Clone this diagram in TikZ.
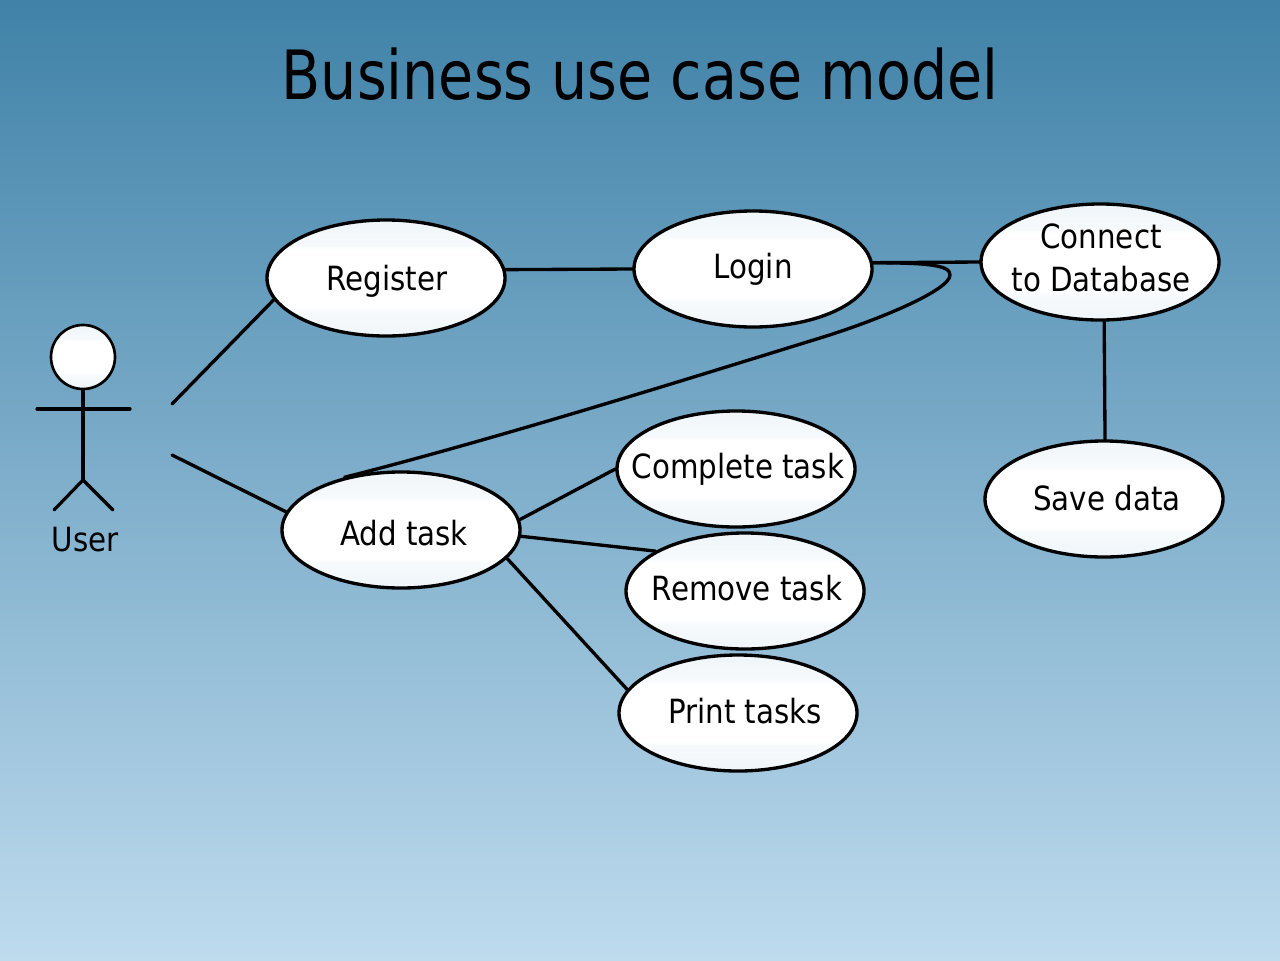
\documentclass[tikz,border=0pt]{standalone}
\usepackage{fontspec}
\setmainfont{DejaVu Sans}[FakeStretch=0.88]
\newfontfamily\titlefont{DejaVu Sans}[FakeStretch=0.84]
\usetikzlibrary{shapes.geometric}
\definecolor{bgtop}{HTML}{4082A8}
\definecolor{bgbot}{HTML}{BEDBEE}
\definecolor{bandc}{HTML}{EFF5F9}
\definecolor{bandd}{HTML}{F7FAFC}
\pgfdeclareverticalshading{ucband}{100bp}{color(0bp)=(bandc); color(25bp)=(bandc); color(36bp)=(bandd); color(38bp)=(white); color(62bp)=(white); color(64bp)=(bandd); color(75bp)=(bandc); color(100bp)=(bandc)}
\tikzset{
  x=0.75pt,y=-0.75pt,
  usecase/.style={ellipse,draw=black,line width=2.5pt,minimum width=238*0.75pt,minimum height=116*0.75pt,inner sep=0pt,
    shading=ucband,font=\fontsize{25}{32}\selectfont,align=center},
  link/.style={line width=2.5pt,line cap=round},
  stick/.style={line width=2.4pt,line cap=round},
}
% \uc{shift right in px}{baseline below the centre in px}{text}: text that does not widen the ellipse
\newcommand{\uc}[3]{\makebox[0pt][c]{\smash{\raisebox{-#2\dimexpr0.75pt\relax}{\hspace*{#1\dimexpr1.5pt\relax}#3}}}}
\begin{document}
\begin{tikzpicture}
\useasboundingbox (0,0) rectangle (1280,960);
\shade[top color=bgtop,bottom color=bgbot,shading angle=0] (0,0) rectangle (1280,960);
\node[font=\titlefont\fontsize{51}{60}\selectfont,anchor=center] (title) at (640,74) {Business use case model};
% actor
\node[circle,draw=black,line width=2pt,minimum size=64*0.75pt,inner sep=0pt,shading=ucband] (head) at (83,357) {};
\coordinate (armL) at (37,409);
\coordinate (armR) at (130,409);
\coordinate (hip) at (83,480);
\coordinate (footL) at (54,510);
\coordinate (footR) at (113,510);
\draw[stick] (armL) -- (armR);
\draw[stick] (head.south) -- (hip);
\draw[stick] (footL) -- (hip) -- (footR);
\node[font=\fontsize{25}{28}\selectfont] (user) at (85,540) {User};
\coordinate (ua) at (172,404);
\coordinate (ub) at (172,455);
% use cases
\node[usecase] (register) at (386,278) {\uc{1}{12}{Register}};
\node[usecase] (login) at (753,269) {\uc{0}{9}{Login}};
\node[usecase] (connect) at (1100,262) {\uc{1}{8}{Connect}\\\uc{1}{8}{to Database}};
\node[usecase] (save) at (1104,499) {\uc{3}{11}{Save data}};
\node[usecase] (complete) at (736,469) {\uc{2}{9}{Complete task}};
\node[usecase] (remove) at (745,591) {\uc{2}{9}{Remove task}};
\node[usecase] (print) at (738,713) {\uc{7}{10}{Print tasks}};
\node[usecase] (add) at (401,530) {\uc{3}{15}{Add task}};
% connectors
\draw[link] (ua) -- (register.191.7);
\draw[link] (ub) -- (add.171.5);
\draw[link] (register.4.3) -- (login.180);
\draw[link] (login.3) -- (connect.180);
\draw[link] (connect.-86) -- (save.89);
\draw[link] (add.5.8) -- (complete.180.5);
\draw[link] (add.-3.8) -- (remove.156.6);
\draw[link] (add.-15.6) -- (print.168);
\coordinate (tip) at (950,275);
\coordinate (bend) at (820,338);
\draw[link] (login.3) .. controls (920,263) and (951,264) .. (tip) .. controls (950,290) and (880,319.5) .. (bend) .. controls (700,375) and (500,438) .. (add.137);
\end{tikzpicture}
\end{document}
